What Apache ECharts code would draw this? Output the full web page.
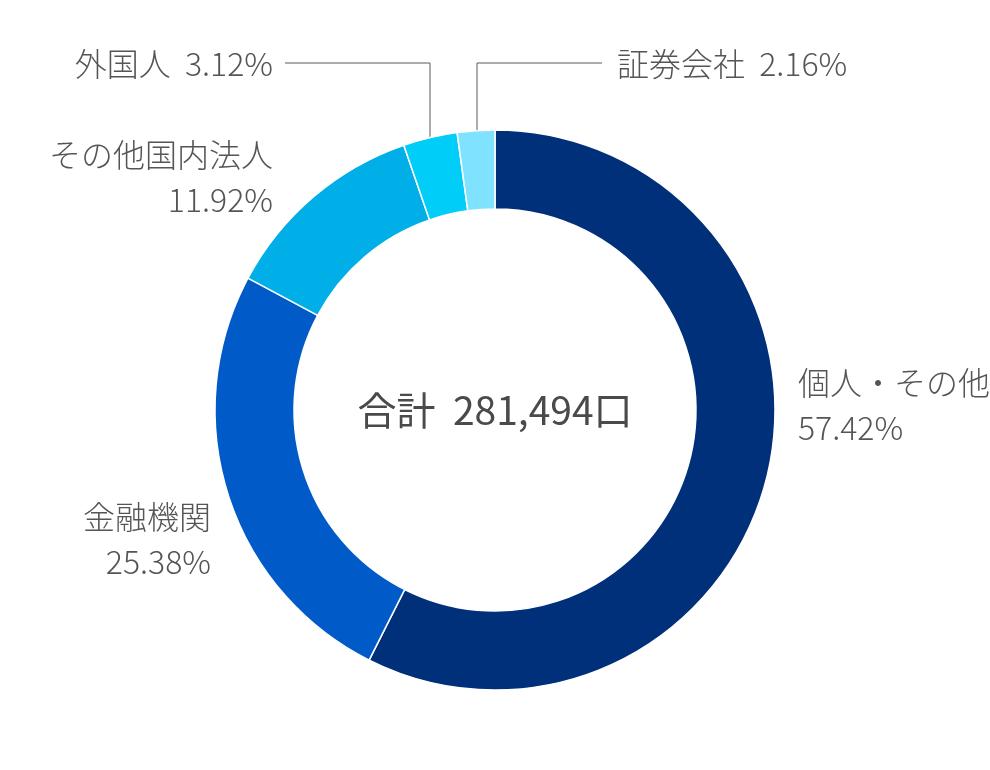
<!DOCTYPE html>
<html>
<head>
<meta charset="utf-8">
<script src="https://cdn.jsdelivr.net/npm/echarts@6/dist/echarts.min.js"></script>
<style>html,body{margin:0;padding:0;background:#fff}#c{width:990px;height:770px}</style>
</head>
<body>
<div id="c"></div>
<script>
var categories = ['個人・その他', '金融機関', 'その他国内法人', '外国人', '証券会社'];
var values = [57.42, 25.38, 11.92, 3.12, 2.16];
var colors = ['#00307a', '#005bc8', '#00aee8', '#00cdf8', '#7fe2ff'];
var totalLabel = '合計  281,494口';

var FONT = '"Noto Sans CJK JP", "Noto Sans", sans-serif';
var chart = echarts.init(document.getElementById('c'));

var labelPos = [
  {x: 798, y: 405, align: 'left', text: function (n, v) { return n + '\n' + v + '%'; }},
  {x: 211, y: 539, align: 'right', text: function (n, v) { return n + '\n' + v + '%'; }},
  {x: 273, y: 177, align: 'right', text: function (n, v) { return n + '\n' + v + '%'; }},
  {x: 273, y: 64, align: 'right', text: function (n, v) { return n + '  ' + v + '%'; }, line: [[430, 147], [430, 63], [285, 63]]},
  {x: 617, y: 64, align: 'left', text: function (n, v) { return n + '  ' + v + '%'; }, line: [[477, 138], [477, 63], [602, 63]]}
];

var data = categories.map(function (c, i) {
  return {name: c, value: values[i], itemStyle: {color: colors[i]},
    labelLine: {show: !!labelPos[i].line}};
});

chart.setOption({
  animation: false,
  graphic: [{
    type: 'text', x: 495, y: 410,
    style: {text: totalLabel, fill: '#4a4a4a', fontSize: 39, fontFamily: FONT, align: 'center', verticalAlign: 'middle'}
  }],
  series: [{
    type: 'pie',
    center: [495, 410],
    radius: [201, 280],
    startAngle: 90,
    clockwise: true,
    itemStyle: {borderColor: '#fff', borderWidth: 1.5},
    label: {
      show: true,
      position: 'outside',
      color: '#555',
      fontSize: 32,
      fontWeight: 300,
      fontFamily: FONT,
      lineHeight: 45,
      overflow: 'none',
      width: 400,
      formatter: function (p) {
        return labelPos[p.dataIndex].text(p.name, p.value.toFixed(2));
      }
    },
    labelLine: {lineStyle: {color: '#5a5a5a', width: 1}},
    labelLayout: function (params) {
      var lp = labelPos[params.dataIndex];
      var o = {x: lp.x, y: lp.y, align: lp.align, verticalAlign: 'middle'};
      if (lp.line) o.labelLinePoints = lp.line;
      return o;
    },
    data: data
  }]
});
</script>
</body>
</html>
